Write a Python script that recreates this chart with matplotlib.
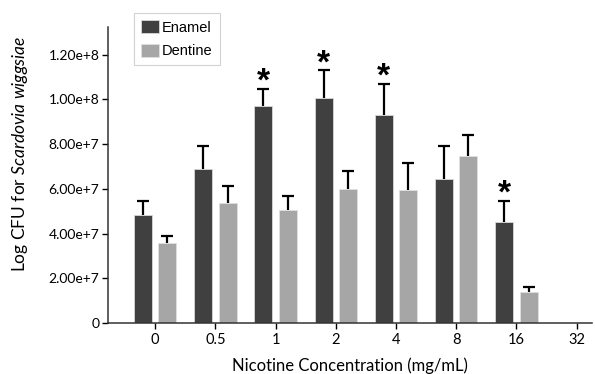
import matplotlib
matplotlib.use("Agg")
import matplotlib.pyplot as plt
import numpy as np

categories = ["0", "0.5", "1", "2", "4", "8", "16", "32"]
enamel = [4.83e7, 6.88e7, 9.72e7, 1.004e8, 9.31e7, 6.46e7, 4.50e7, 0]
enamel_err = [0.64e7, 1.04e7, 0.75e7, 1.27e7, 1.38e7, 1.47e7, 0.96e7, 0]
dentine = [3.58e7, 5.36e7, 5.06e7, 6.00e7, 5.94e7, 7.49e7, 1.40e7, 0]
dentine_err = [0.33e7, 0.77e7, 0.62e7, 0.80e7, 1.21e7, 0.92e7, 0.21e7, 0]
significant = [False, False, True, True, True, False, True, False]
yticks = [0, 2e7, 4e7, 6e7, 8e7, 1e8, 1.2e8]
ytick_labels = ["0", "2.00e+7", "4.00e+7", "6.00e+7", "8.00e+7", "1.00e+8", "1.20e+8"]

plt.rcParams['font.family'] = ['Lato', 'DejaVu Sans']
plt.rcParams['mathtext.fontset'] = 'custom'
plt.rcParams['mathtext.rm'] = 'Lato'
plt.rcParams['mathtext.it'] = 'Lato:italic'

fig = plt.figure(figsize=(5.95, 3.74), dpi=100)
ax = fig.add_axes([0.181, 0.1364, 0.995 - 0.181, 0.928 - 0.1364])

x = np.arange(len(categories))
w = 0.3
off = 0.203
c_en = '#404040'
c_de = '#a6a6a6'

en_mask = np.array(enamel) > 0
de_mask = np.array(dentine) > 0

ax.bar(x - off, enamel, w, color=c_en, edgecolor='#d8d8d8', linewidth=0.6, label='Enamel', zorder=2)
ax.bar(x + off, dentine, w, color=c_de, edgecolor='#e0e0e0', linewidth=0.6, label='Dentine', zorder=2)


def upper_err(xs, vals, errs, mask):
    vals = np.array(vals)[mask]
    errs = np.array(errs)[mask]
    cont = ax.errorbar(xs[mask], vals, yerr=[np.zeros(mask.sum()), errs],
                       fmt='none', ecolor='black', elinewidth=1.6, capsize=4.2,
                       capthick=1.6, zorder=3)
    caps = cont.lines[1]
    if len(caps) == 2:
        caps[0].set_visible(False)


upper_err(x - off, enamel, enamel_err, en_mask)
upper_err(x + off, dentine, dentine_err, de_mask)

for xi, v, e, s in zip(x - off, enamel, enamel_err, significant):
    if s:
        ax.annotate('*', xy=(xi, v + e), xytext=(0, -6.5), textcoords='offset points',
                    ha='center', va='bottom', fontsize=24, fontweight='bold',
                    family='Liberation Sans')

ax.set_xlim(-0.789, 7.256)
ax.set_ylim(0, 1.324e8)
ax.set_xticks(x)
ax.set_xticklabels(categories, fontsize=10.5)
ax.set_yticks(yticks)
ax.set_yticklabels(ytick_labels, fontsize=10)
ax.tick_params(axis='y', length=4, width=1, pad=2, colors='black')
ax.tick_params(axis='x', length=4, width=1, pad=3)

for sp in ['top', 'right']:
    ax.spines[sp].set_visible(False)
for sp in ['left', 'bottom']:
    ax.spines[sp].set_linewidth(1.1)
    ax.spines[sp].set_color('#333333')

ax.set_xlabel('Nicotine Concentration (mg/mL)', fontsize=12)
ax.set_ylabel(r'Log CFU for $\mathit{Scardovia\ wiggsiae}$', fontsize=12.5)
ax.xaxis.set_label_coords(0.5, -0.117)
ax.yaxis.set_label_coords(-0.16, 0.57)

leg = fig.legend(loc='upper left', bbox_to_anchor=(0.225, 0.965), frameon=True,
                 fancybox=False, edgecolor='#c8c8c8',
                 handlelength=1.25, handleheight=1.0, handletextpad=0.15,
                 borderpad=0.5, labelspacing=0.6, borderaxespad=0,
                 prop={'family': 'Liberation Sans', 'size': 10.5})
leg.get_frame().set_linewidth(0.8)

fig.savefig('out.png', dpi=100)
